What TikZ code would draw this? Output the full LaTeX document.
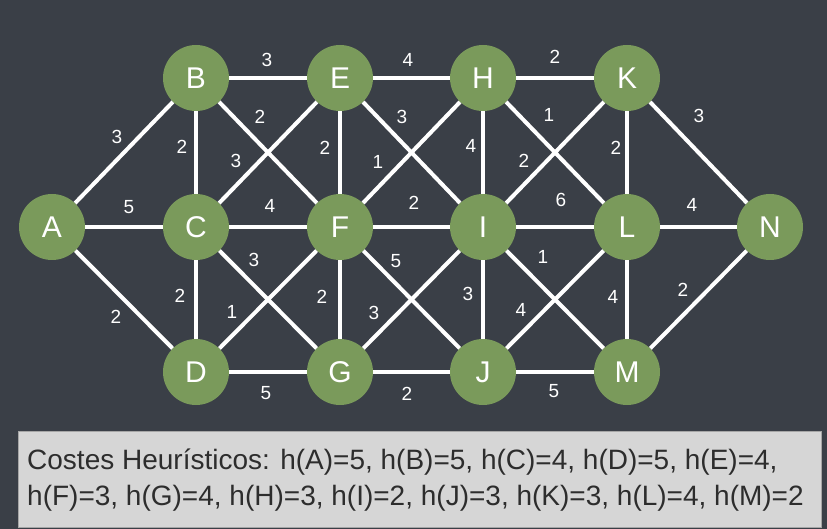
\documentclass[tikz,border=0pt]{standalone}
\usepackage{fontspec}
\setmainfont{Liberation Sans}
\usetikzlibrary{backgrounds}
\definecolor{board}{RGB}{58,63,71}
\definecolor{nodegreen}{RGB}{122,154,91}
\definecolor{boxfill}{RGB}{214,214,214}
\definecolor{boxtext}{RGB}{45,45,45}
\tikzset{
  vertex/.style={circle, fill=nodegreen, minimum size=66pt, inner sep=0pt, text=white,
    font=\fontsize{30}{30}\selectfont},
  edge/.style={draw=white, line width=4pt},
  weight/.style={text=white, font=\fontsize{19}{19}\selectfont, inner sep=0pt},
  heur/.style={text=boxtext, font=\fontsize{28}{30}\selectfont, inner sep=0pt, anchor=base west}
}
\begin{document}
\begin{tikzpicture}[x=1pt,y=-1pt]
\begin{scope}[on background layer]
\fill[board] (0,0) rectangle (827,529);
\end{scope}
\useasboundingbox (0,0) rectangle (827,529);
% vertices
\node[vertex] (A) at (52,227) {A};
\node[vertex] (B) at (196,78) {B};
\node[vertex] (C) at (196,227) {C};
\node[vertex] (D) at (196,372) {D};
\node[vertex] (E) at (340,78) {E};
\node[vertex] (F) at (340,227) {F};
\node[vertex] (G) at (340,372) {G};
\node[vertex] (H) at (483,78) {H};
\node[vertex] (I) at (483,227) {I};
\node[vertex] (J) at (483,372) {J};
\node[vertex] (K) at (627,78) {K};
\node[vertex] (L) at (627,227) {L};
\node[vertex] (M) at (627,372) {M};
\node[vertex] (N) at (770,227) {N};
% edges
\begin{scope}[on background layer]
\foreach \a/\b in {A/B,A/C,A/D,B/C,B/E,B/F,C/E,C/F,C/G,C/D,D/F,D/G,E/F,E/H,E/I,F/H,F/I,F/G,F/J,G/I,G/J,H/I,H/K,H/L,I/K,I/L,I/J,I/M,J/L,J/M,K/L,K/N,L/N,L/M,M/N}
  \draw[edge] (\a) -- (\b);
\end{scope}
% weights
\node[weight] (wAB) at (117,137) {3};
\node[weight] (wAC) at (129,207) {5};
\node[weight] (wAD) at (116,317) {2};
\node[weight] (wBC) at (182,147) {2};
\node[weight] (wBE) at (267,60) {3};
\node[weight] (wBF) at (260,117) {2};
\node[weight] (wCE) at (236,161) {3};
\node[weight] (wCF) at (270,206) {4};
\node[weight] (wEF) at (325,148) {2};
\node[weight] (wEH) at (408,60) {4};
\node[weight] (wEI) at (402,117) {3};
\node[weight] (wFH) at (378,162) {1};
\node[weight] (wFI) at (414,203) {2};
\node[weight] (wHI) at (471,146) {4};
\node[weight] (wHK) at (555,57) {2};
\node[weight] (wHL) at (549,115) {1};
\node[weight] (wIK) at (524,161) {2};
\node[weight] (wKL) at (616,148) {2};
\node[weight] (wKN) at (699,116) {3};
\node[weight] (wIL) at (561,200) {6};
\node[weight] (wLN) at (692,205) {4};
\node[weight] (wCG) at (254,260) {3};
\node[weight] (wCD) at (180,296) {2};
\node[weight] (wDF) at (232,312) {1};
\node[weight] (wFG) at (322,297) {2};
\node[weight] (wFJ) at (396,261) {5};
\node[weight] (wGI) at (374,313) {3};
\node[weight] (wIJ) at (468,294) {3};
\node[weight] (wIM) at (543,257) {1};
\node[weight] (wJL) at (521,310) {4};
\node[weight] (wLM) at (613,297) {4};
\node[weight] (wMN) at (683,290) {2};
\node[weight] (wDG) at (266,393) {5};
\node[weight] (wGJ) at (407,394) {2};
\node[weight] (wJM) at (554,391) {5};
% heuristic box
\node[draw=gray!70, fill=boxfill, line width=1pt, minimum width=803pt, minimum height=96pt,
  anchor=north west, inner sep=0pt] (box) at (18,431) {};
\node[heur] (t1) at (27,469) {Costes Heurísticos: h(A)=5, h(B)=5, h(C)=4, h(D)=5, h(E)=4,};
\node[heur] (t2) at (27,505) {h(F)=3, h(G)=4, h(H)=3, h(I)=2, h(J)=3, h(K)=3, h(L)=4, h(M)=2};
\end{tikzpicture}
\end{document}
